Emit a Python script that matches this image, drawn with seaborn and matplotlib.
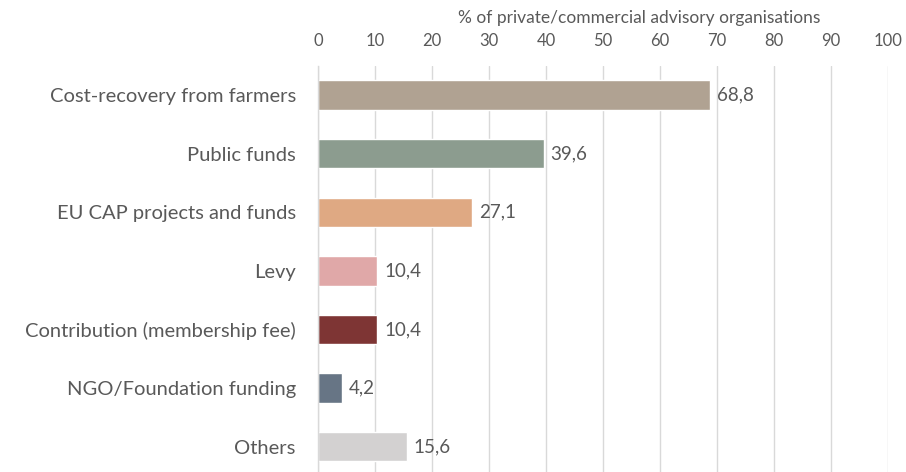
import matplotlib
matplotlib.use("Agg")
import matplotlib.pyplot as plt
import seaborn as sns
import pandas as pd

categories = [
    "Cost-recovery from farmers",
    "Public funds",
    "EU CAP projects and funds",
    "Levy",
    "Contribution (membership fee)",
    "NGO/Foundation funding",
    "Others",
]
values = [68.8, 39.6, 27.1, 10.4, 10.4, 4.2, 15.6]
bar_colors = ["#B0A292", "#8C9C8F", "#DFA983", "#E0A8A8", "#7E3534", "#677585", "#D3D1D1"]
x_ticks = [0, 10, 20, 30, 40, 50, 60, 70, 80, 90, 100]
axis_title = "% of private/commercial advisory organisations"

sns.set_theme(style="white")
plt.rcParams["font.family"] = ["Lato", "DejaVu Sans"]
text_color = "#595959"
grid_color = "#D9D9D9"

df = pd.DataFrame({"source": categories, "share": values})

fig = plt.figure(figsize=(9.06, 4.72), dpi=100)
ax = fig.add_axes([318 / 906, 1 - 476 / 472, 570 / 906, (476 - 65.7) / 472])

sns.barplot(
    data=df, x="share", y="source", hue="source", order=categories,
    hue_order=categories, palette=bar_colors, orient="h", width=0.5,
    legend=False, ax=ax, saturation=1,
)

ax.set_xlim(0, 100)
ax.set_xticks(x_ticks)
ax.xaxis.tick_top()
ax.tick_params(axis="x", top=True, length=0, pad=12,
               labelsize=12, labelcolor=text_color)
ax.tick_params(axis="y", left=False, pad=10, labelsize=14.5, labelcolor=text_color)
ax.set_xlabel("")
ax.set_ylabel("")
ax.grid(axis="x", color=grid_color, linewidth=1)
ax.set_axisbelow(True)
for side in ["top", "right", "bottom"]:
    ax.spines[side].set_visible(False)
ax.spines["left"].set_color(grid_color)
ax.spines["left"].set_linewidth(1)

for container in ax.containers:
    labels = [f"{bar.get_width():.1f}".replace(".", ",") for bar in container]
    ax.bar_label(container, labels=labels, padding=5, fontsize=13.5, color=text_color)

fig.text(639 / 906, 1 - 18 / 472, axis_title, ha="center", va="center",
         fontsize=12.5, color=text_color)

fig.savefig("out.png", dpi=100)
